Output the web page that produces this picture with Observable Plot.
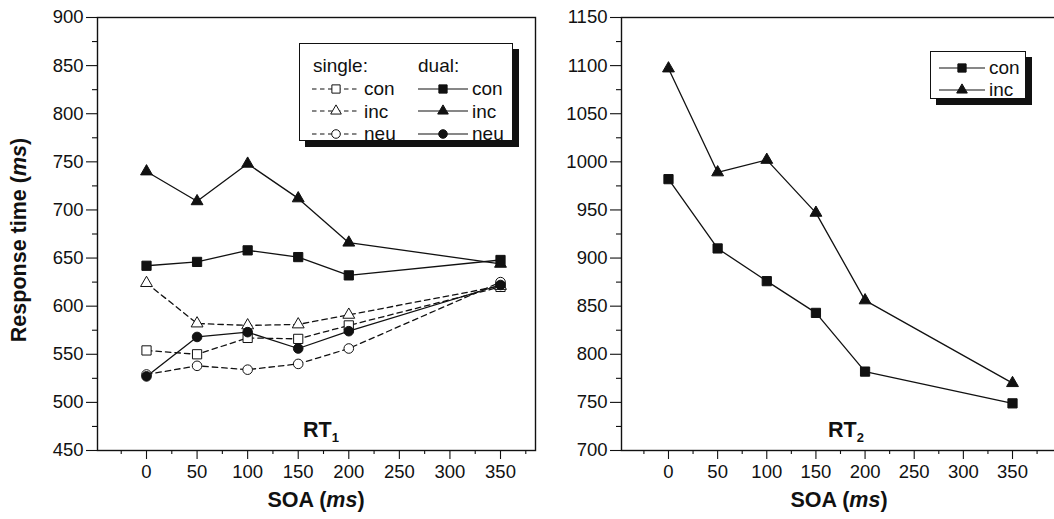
<!DOCTYPE html>
<html><head><meta charset="utf-8">
<script src="https://cdn.jsdelivr.net/npm/d3@7"></script>
<script src="https://cdn.jsdelivr.net/npm/@observablehq/plot@0.6"></script>
<style>
body{margin:0;background:#fff;overflow:hidden}
#wrap{position:relative;width:1054px;height:519px;overflow:hidden;font-family:"Liberation Sans",Arial,sans-serif;color:#111;background:#fff}
.chart{position:absolute;top:0}
.lab{position:absolute;font-weight:bold;font-size:21.5px;white-space:nowrap;line-height:1}
.lab sub{font-size:13px;vertical-align:-5px}
.legend{position:absolute;background:#fff;border:1.3px solid #111;box-shadow:6px 6px 0 #111;font-size:19px;line-height:1}
.legend .row{position:absolute;display:flex;align-items:center;white-space:nowrap}
.legend svg{display:block;margin-right:4px}
</style></head>
<body><div id="wrap"></div>
<script>
// ---- data ----
const soa = [0, 50, 100, 150, 200, 350];
const singleCon = [554, 550, 567, 566, 580, 620];
const singleInc = [624, 582, 580, 581, 591, 621];
const singleNeu = [529, 538, 534, 540, 556, 625];
const dualCon = [642, 646, 658, 651, 632, 648];
const dualInc = [740, 709, 748, 712, 666, 644];
const dualNeu = [527, 568, 573, 556, 574, 622];
const rt2Con = [982, 910, 876, 843, 782, 749];
const rt2Inc = [1097, 989, 1002, 947, 856, 770];
const xTickLabels = [0, 50, 100, 150, 200, 250, 300, 350];
const y1TickLabels = [450, 500, 550, 600, 650, 700, 750, 800, 850, 900];
const y2TickLabels = [700, 750, 800, 850, 900, 950, 1000, 1050, 1100, 1150];

const symbolOf = {con: "square", inc: "triangle", neu: "circle"};
const sizeOf = {con: 5.2, inc: 4.4, neu: 4.8};
const rows = (vals, cond, task) => soa.map((s, i) => ({soa: s, rt: vals[i], cond, task}));

const INK = "#111";
const font = '"Liberation Sans", Arial, sans-serif';

function seriesMarks(data, cond, task) {
  const dashed = task === "single";
  return [
    Plot.line(data, {x: "soa", y: "rt", stroke: INK, strokeWidth: 1.3, strokeDasharray: dashed ? "5.5,4" : null}),
    Plot.dot(data, {x: "soa", y: "rt", symbol: symbolOf[cond], r: sizeOf[cond],
      fill: dashed ? "white" : INK, stroke: INK, strokeWidth: 1})
  ];
}

function axes(yMajor, yDomain, xDomain) {
  const yMinor = yMajor.slice(0, -1).map(v => v + 25);
  const xMinor = d3.range(Math.ceil(xDomain[0] / 25) * 25, xDomain[1], 25).filter(v => v % 50 !== 0 || v < 0 || v > 350);
  return [
    Plot.axisY({ticks: yMajor, tickSize: 11, tickPadding: 3, fontSize: 18.5, tickFormat: d => String(d), label: null, strokeWidth: 1.1}),
    Plot.axisY({ticks: yMinor, tickSize: 5, tickFormat: () => "", label: null, strokeWidth: 1.1}),
    Plot.axisX({ticks: xTickLabels, tickSize: 9, tickPadding: 5, fontSize: 18.5, tickFormat: d => String(d), label: null, strokeWidth: 1.1}),
    Plot.axisX({ticks: xMinor, tickSize: 4, tickFormat: () => "", label: null, strokeWidth: 1.1})
  ];
}

const wrap = document.getElementById("wrap");

// ---- left chart (RT1) ----
const xDom1 = [-48.45, 384.6];
const yDom1 = [450, 900];
const left = Plot.plot({
  width: 545, height: 519,
  marginLeft: 97, marginRight: 10, marginTop: 17, marginBottom: 69,
  style: {fontFamily: font, color: INK, background: "transparent", overflow: "visible"},
  x: {domain: xDom1},
  y: {domain: yDom1},
  marks: [
    ...axes(y1TickLabels, yDom1, xDom1),
    Plot.frame({stroke: INK, strokeWidth: 1.4}),
    ...seriesMarks(rows(singleCon, "con", "single"), "con", "single"),
    ...seriesMarks(rows(singleInc, "inc", "single"), "inc", "single"),
    ...seriesMarks(rows(singleNeu, "neu", "single"), "neu", "single"),
    ...seriesMarks(rows(dualCon, "con", "dual"), "con", "dual"),
    ...seriesMarks(rows(dualInc, "inc", "dual"), "inc", "dual"),
    ...seriesMarks(rows(dualNeu, "neu", "dual"), "neu", "dual")
  ]
});
left.classList.add("chart");
left.style.left = "0px";
wrap.appendChild(left);

// ---- right chart (RT2) ----
const xDom2 = [-47.8, 409];
const yDom2 = [700, 1150];
const right = Plot.plot({
  width: 530, height: 519,
  marginLeft: 81, marginRight: 0, marginTop: 17, marginBottom: 69,
  style: {fontFamily: font, color: INK, background: "transparent", overflow: "visible"},
  x: {domain: xDom2},
  y: {domain: yDom2},
  marks: [
    ...axes(y2TickLabels, yDom2, xDom2),
    Plot.frame({stroke: INK, strokeWidth: 1.4}),
    ...seriesMarks(rows(rt2Con, "con", "dual"), "con", "dual"),
    ...seriesMarks(rows(rt2Inc, "inc", "dual"), "inc", "dual")
  ]
});
right.classList.add("chart");
right.style.left = "540px";
wrap.appendChild(right);

// ---- text labels ----
function label(html, x, y, rotate) {
  const d = document.createElement("div");
  d.className = "lab";
  d.innerHTML = html;
  d.style.left = x + "px";
  d.style.top = y + "px";
  d.style.transform = "translate(-50%,-50%)" + (rotate ? " rotate(-90deg)" : "");
  wrap.appendChild(d);
}
label("Response time (<i>ms</i>)", 20, 240, true);
label("SOA (<i>ms</i>)", 316, 501);
label("SOA (<i>ms</i>)", 839, 501);
label("RT<sub>1</sub>", 321, 432);
label("RT<sub>2</sub>", 846, 432);

// ---- legends ----
function keySvg(cond, task, w) {
  const dashed = task === "single";
  const s = d3.create("svg").attr("width", w).attr("height", 16);
  s.append("line").attr("x1", 0).attr("x2", w).attr("y1", 8).attr("y2", 8)
    .attr("stroke", INK).attr("stroke-width", 1.2).attr("stroke-dasharray", dashed ? "4.5,3.5" : null);
  const sym = d3.symbol().type({con: d3.symbolSquare, inc: d3.symbolTriangle, neu: d3.symbolCircle}[cond])
    .size(Math.PI * sizeOf[cond] ** 2 * 0.8);
  s.append("path").attr("d", sym()).attr("transform", `translate(${w / 2},8)`)
    .attr("fill", dashed ? "white" : INK).attr("stroke", INK).attr("stroke-width", 1);
  return s.node();
}
function legend(x, y, w, h, entries, headers) {
  const box = document.createElement("div");
  box.className = "legend";
  Object.assign(box.style, {left: x + "px", top: y + "px", width: w + "px", height: h + "px"});
  headers.forEach(([t, lx, ly]) => {
    const r = document.createElement("div");
    r.className = "row"; r.textContent = t;
    r.style.left = lx + "px"; r.style.top = ly + "px";
    box.appendChild(r);
  });
  entries.forEach(([cond, task, lx, ly, sw]) => {
    const r = document.createElement("div");
    r.className = "row";
    r.style.left = lx + "px"; r.style.top = ly + "px";
    r.appendChild(keySvg(cond, task, sw));
    const t = document.createElement("span"); t.textContent = cond;
    r.appendChild(t);
    box.appendChild(r);
  });
  wrap.appendChild(box);
}
const conds = ["con", "inc", "neu"];
legend(299, 43, 212, 96,
  [...conds.map((c, i) => [c, "single", 12, 35 + i * 22.5, 48]),
   ...conds.map((c, i) => [c, "dual", 118, 35 + i * 22.5, 50])],
  [["single:", 13, 12], ["dual:", 118, 12]]);
legend(930, 51, 94, 46,
  ["con", "inc"].map((c, i) => [c, "dual", 8, 6 + i * 22, 46]), []);
</script></body></html>
